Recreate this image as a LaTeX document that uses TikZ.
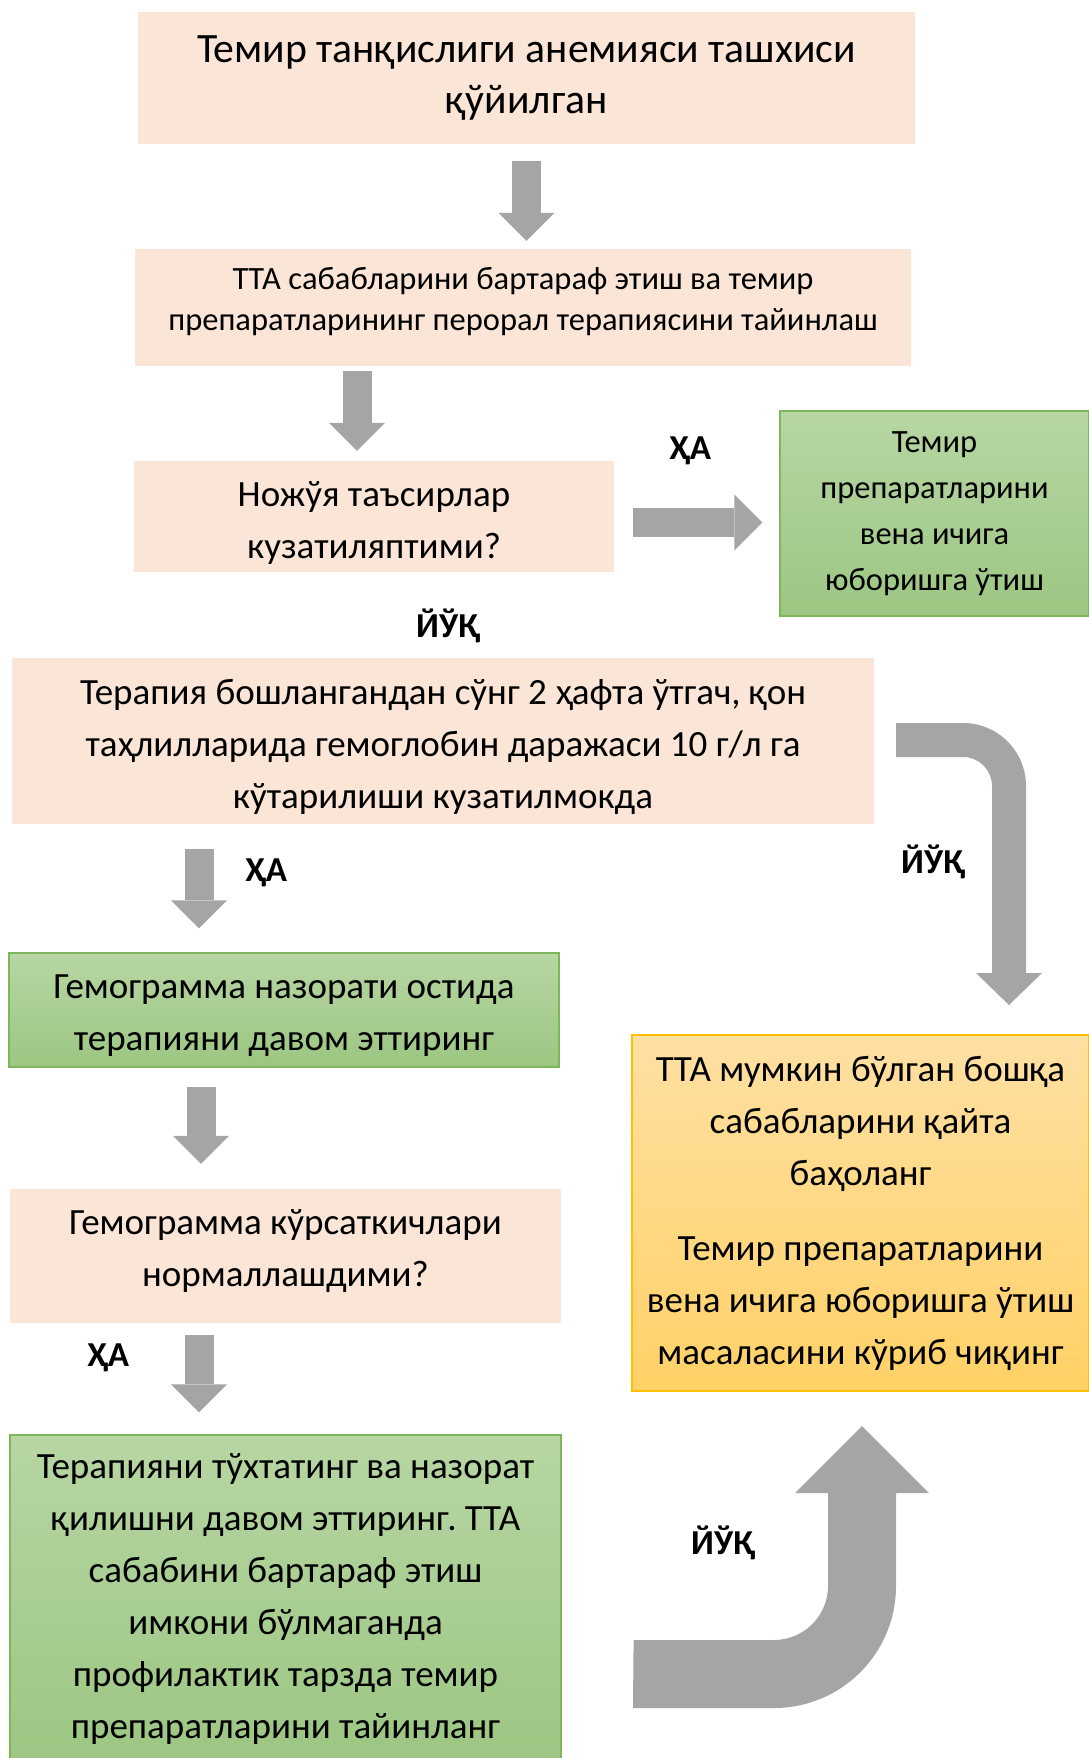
\documentclass[tikz,border=0pt]{standalone}
\usepackage{fontspec}
\setmainfont{Carlito}
\frenchspacing
\usetikzlibrary{arrows.meta,calc}
\definecolor{peach}{HTML}{FBE5D6}
\definecolor{greentop}{HTML}{B7D6A3}
\definecolor{greenbot}{HTML}{9CC682}
\definecolor{greenline}{HTML}{7DB75A}
\definecolor{orangetop}{HTML}{FFE0A3}
\definecolor{orangebot}{HTML}{FFD166}
\definecolor{orangeline}{HTML}{FFC000}
\definecolor{arrowgray}{HTML}{A5A5A5}
\begin{document}
\begin{tikzpicture}[x=1pt,y=-1pt,
  box/.style={rectangle, inner sep=0pt, align=center, text=black},
  peachbox/.style={box, fill=peach},
  greenbox/.style={box, draw=greenline, line width=1.2pt, top color=greentop, bottom color=greenbot},
  orangebox/.style={box, draw=orangeline, line width=1.2pt, top color=orangetop, bottom color=orangebot},
  txt/.style={inner sep=0pt, align=center, text=black},
  body/.style={font=\fontsize{37}{52}\selectfont},
  lbl/.style={font=\fontsize{35}{40}\selectfont\bfseries},
  varrow/.style={draw=arrowgray, line width=29pt, -{Triangle[width=56pt,length=28pt,line width=0pt]}},
  bentarrow/.style={fill=arrowgray, draw=none}]
\useasboundingbox (0,0) rectangle (1088,1758);

% boxes
\node[peachbox, minimum width=777pt, minimum height=132pt, font=\fontsize{41.7}{51}\selectfont] (b1) at (526.5,78)
  {Темир танқислиги анемияси ташхиси\\қўйилган};
\node[peachbox, minimum width=776pt, minimum height=117pt] (b2) at (523,307.5) {};
\node[txt, font=\fontsize{32.5}{41}\selectfont] (b2t) at ($(b2.center)+(0,-6)$)
  {ТТА сабабларини бартараф этиш ва темир\\препаратларининг перорал терапиясини тайинлаш};
\node[peachbox, minimum width=480pt, minimum height=111pt] (b3) at (374,516.5) {};
\node[txt, body] (b3t) at ($(b3.center)+(0,6)$) {Ножўя таъсирлар\\кузатиляптими?};
\node[greenbox, minimum width=309pt, minimum height=205pt, font=\fontsize{32.5}{46}\selectfont] (g1) at (934.5,513.5)
  {Темир\\препаратларини\\вена ичига\\юборишга ўтиш};
\node[peachbox, minimum width=862pt, minimum height=166pt] (b4) at (443,741) {};
\node[txt, body] (b4t) at ($(b4.center)+(0,6)$)
  {Терапия бошлангандан сўнг 2 ҳафта ўтгач, қон\\таҳлилларида гемоглобин даражаси 10 г/л га\\кўтарилиши кузатилмокда};
\node[greenbox, minimum width=550pt, minimum height=114pt] (gA) at (284,1010) {};
\node[txt, body] (gAt) at ($(gA.center)+(0,6)$) {Гемограмма назорати остида\\терапияни давом эттиринг};
\node[peachbox, minimum width=551pt, minimum height=134pt] (bB) at (285.5,1256) {};
\node[txt, body] (bBt) at ($(bB.center)+(0,-5)$) {Гемограмма кўрсаткичлари\\нормаллашдими?};
\node[greenbox, body, minimum width=551pt, minimum height=327pt] (gC) at (285.5,1598.5)
  {Терапияни тўхтатинг ва назорат\\қилишни давом эттиринг. ТТА\\сабабини бартараф этиш\\имкони бўлмаганда\\профилактик тарзда темир\\препаратларини тайинланг};
\node[orangebox, body, minimum width=457pt, minimum height=356pt] (oR) at (860.5,1213)
  {ТТА мумкин бўлган бошқа\\сабабларини қайта\\баҳоланг\\[23pt]Темир препаратларини\\вена ичига юборишга ўтиш\\масаласини кўриб чиқинг};

% labels
\node[lbl] (ya1) at (690,451) {ҲА};
\node[lbl] (no1) at (448,626) {ЙЎҚ};
\node[lbl] (ya2) at (266,873) {ҲА};
\node[lbl] (no2) at (933,862) {ЙЎҚ};
\node[lbl] (ya3) at (108,1358) {ҲА};
\node[lbl] (no3) at (723,1543) {ЙЎҚ};

% straight block arrows
\draw[varrow] ($(b1.south)+(0,17)$) -- ($(b1.south |- b2.north)+(0,-8)$);
\draw[varrow] ($(b2.south)+(-166,5)$) -- ($(b3.north)+(-17,-10)$);
\draw[varrow] ($(b3.east)+(19,6)$) -- ($(g1.west)+(-17,9)$);
\draw[varrow] ($(b4.south)+(-244,25)$) -- ($(gA.north)+(-85,-24)$);
\draw[varrow] ($(gA.south)+(-83,19)$) -- ($(bB.north)+(-84.5,-25)$);
\draw[varrow] ($(bB.south)+(-86.5,12)$) -- ($(gC.north)+(-86.5,-22)$);

% bent arrows
\coordinate (c1) at ($(b4.east)+(22,-18)$);
\fill[bentarrow] (c1) -- (963,723) .. controls (997.8,723) and (1026,751.2) .. (1026,786)
  -- (1026,973) -- (1042,973) -- (1009,1005) -- (976,973) -- (992,973) -- (992,786)
  .. controls (992,770) and (979,757) .. (963,757) -- (896,757) -- cycle;
\coordinate (c2) at ($(gC.east)+(72,41.5)$);
\fill[bentarrow] (c2) -- (774,1640) .. controls (803.8,1640) and (828,1615.8) .. (828,1586)
  -- (828,1493) -- (795,1493) -- (862,1426) -- (929,1493) -- (896,1493) -- (896,1586)
  .. controls (896,1653.4) and (841.4,1708) .. (774,1708) -- (633,1708) -- cycle;
\end{tikzpicture}
\end{document}
